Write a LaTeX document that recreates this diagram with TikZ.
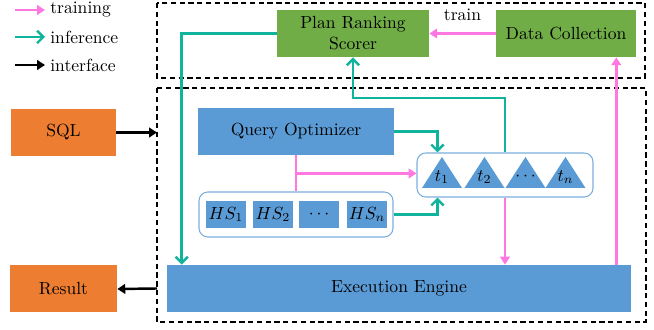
\documentclass[tikz,border=0pt]{standalone}
\usetikzlibrary{arrows.meta,calc}
\definecolor{dborange}{HTML}{ED7D31}
\definecolor{dbblue}{HTML}{5B9BD5}
\definecolor{dbgreen}{HTML}{70AD47}
\definecolor{dbteal}{HTML}{10B39C}
\definecolor{dbpink}{HTML}{FF78E2}

\begin{document}
\begin{tikzpicture}[x=0.02cm,y=-0.02cm,
  block/.style={rectangle,inner sep=0pt,minimum height=0.94cm,
                align=center,text=black},
  hsbox/.style={rectangle,inner sep=0pt,fill=dbblue,minimum width=0.8cm,
                minimum height=0.54cm},
  holder/.style={rectangle,rounded corners=5pt,draw=dbblue!80,fill=white,
                 line width=0.6pt,inner sep=0pt},
  groupbox/.style={draw=black,dashed,dash pattern=on 3pt off 2pt,line width=0.8pt},
  trainarr/.style={-{Triangle[length=4.5pt,width=5.5pt]},line width=1.4pt,dbpink},
  infarr/.style={-{Straight Barb[length=3.5pt,width=7pt]},line width=1.4pt,dbteal},
  ifcarr/.style={-{Triangle[length=4.5pt,width=5.5pt]},line width=1.4pt,black},
  legend/.style={anchor=west,inner sep=0pt}
]
  \useasboundingbox (0,0) rectangle (654,330);

  % ---- Legend ------------------------------------------------
  \coordinate (lg1) at (15,10);
  \coordinate (lg2) at (15,37);
  \coordinate (lg3) at (15,65);
  \node[legend] (lgtrain) at (50,10) {training};
  \node[legend] (lginfer) at (50,37) {inference};
  \node[legend] (lgiface) at (50,65) {interface};
  \draw[trainarr] (lg1) -- ($(lgtrain.west)+(-5,0)$);
  \draw[infarr]   (lg2) -- ($(lginfer.west)+(-5,0)$);
  \draw[ifcarr]   (lg3) -- ($(lgiface.west)+(-5,0)$);

  % ---- Dashed groups -----------------------------------------
  \coordinate (upNW)  at (157,3);
  \coordinate (upSE)  at (645,78);
  \coordinate (lowNW) at (157,88);
  \coordinate (lowSE) at (646,322);
  \draw[groupbox] (upNW) rectangle (upSE);
  \draw[groupbox] (lowNW) rectangle (lowSE);

  % ---- Learned components (top) ------------------------------
  \node[block,fill=dbgreen,minimum width=3.04cm] (scorer) at (353,33.5)
    {Plan Ranking\\Scorer};
  \node[block,fill=dbgreen,minimum width=2.8cm] (collect) at (566,33.5)
    {Data Collection};

  % ---- Input / output ----------------------------------------
  \node[block,fill=dborange,minimum width=2.1cm] (sql) at (63.5,132.5) {SQL};
  \node[block,fill=dborange,minimum width=2.14cm] (result) at (63.5,289) {Result};

  % ---- Database engine ---------------------------------------
  \node[block,fill=dbblue,minimum width=3.92cm] (optimizer) at (296,131.5)
    {Query Optimizer};
  \node[block,fill=dbblue,minimum width=9.28cm] (exec) at (399,288.5)
    {Execution Engine};

  % hint sets
  \node[holder,minimum width=3.88cm,minimum height=0.9cm] (hsset) at (296,214.5) {};
  \node[hsbox] (hs1) at (226,214.5) {$HS_1$};
  \node[hsbox] (hs2) at (273,214.5) {$HS_2$};
  \node[hsbox] (hs3) at (319,214.5) {$\cdots$};
  \node[hsbox] (hsn) at (367,214.5) {$HS_n$};

  % candidate plans
  \node[holder,minimum width=3.52cm,minimum height=0.88cm] (plans) at (505,175) {};
  \foreach \x/\lbl/\nm in {442/t_1/t1,484.5/t_2/t2,525.5/\cdots/t3,565.5/t_n/tn}{
    \fill[dbblue] (\x-20,188) -- (\x,157) -- (\x+20,188) -- cycle;
    \node[inner sep=0pt] (\nm) at (\x,177) {$\lbl$};
  }

  % ---- Interface arrows --------------------------------------
  \draw[ifcarr] (sql.east) -- (sql.east -| lowNW);
  \draw[ifcarr] (exec.west -| lowNW) -- (result.east);

  % ---- Training flow -----------------------------------------
  \draw[trainarr] (collect.west) -- node[midway,above=3pt,text=black] (trainlbl) {train}
    (scorer.east);
  \draw[line width=1.4pt,dbpink] (optimizer.south) -- (hsset.north);
  \coordinate (tee) at ($(optimizer.south)!0.5!(hsset.north)$);
  \draw[trainarr] (tee) -- (tee -| plans.west);
  \draw[trainarr] (plans.south) -- (plans.south |- exec.north);
  \coordinate (feedback) at ($(exec.north east)+(-15,0)$);
  \draw[trainarr] (feedback) -- (feedback |- collect.south);

  % ---- Inference flow ----------------------------------------
  \draw[infarr] (scorer.west) -| ($(exec.north west)+(15,0)$);
  \draw[infarr] (optimizer.east) -| ($(plans.north west)+(21,0)$);
  \draw[infarr] (hsset.east) -| ($(plans.south west)+(21,0)$);
  \coordinate (bend) at (505,98);
  \draw[infarr] (plans.north) -- (bend) -| (scorer.south);

\end{tikzpicture}
\end{document}
